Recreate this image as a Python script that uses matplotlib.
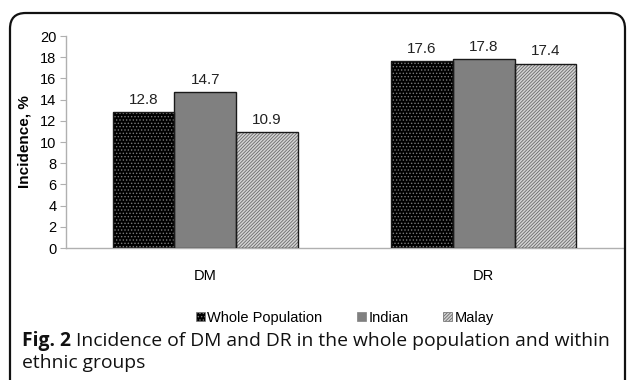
import matplotlib
matplotlib.use("Agg")
import matplotlib.pyplot as plt
import numpy as np
from matplotlib.patches import FancyBboxPatch

plt.rcParams['font.family'] = ['Liberation Sans', 'DejaVu Sans']
plt.rcParams['hatch.linewidth'] = 0.6

categories = ['DM', 'DR']
groups = ['Whole Population', 'Indian', 'Malay']
whole_pop = [12.8, 17.6]
indian = [14.7, 17.8]
malay = [10.9, 17.4]
yticks = list(range(0, 21, 2))
caption_bold = 'Fig. 2'
caption_rest = ' Incidence of DM and DR in the whole population and within'
caption_line2 = 'ethnic groups'

# face colour, hatch, hatch colour
styles = [('#000000', '.....', '#7a7a7a'),
          ('#808080', '', '#808080'),
          ('#d4d4d4', '//////////', '#6a6a6a')]

fig = plt.figure(figsize=(6.27, 3.80), dpi=100)
ax = fig.add_axes([66 / 627, 132 / 380, 557 / 627, 212 / 380])

x = np.arange(len(categories))
w = 0.222
series = [whole_pop, indian, malay]
handles = []
for i, (vals, (fc, hatch, hc)) in enumerate(zip(series, styles)):
    pos = x + (i - 1) * w
    ax.bar(pos, vals, w, color=fc, hatch=hatch, edgecolor=hc, linewidth=0, zorder=2)
    ax.bar(pos, vals, w, fill=False, edgecolor='#1a1a1a', linewidth=1.0, zorder=3)
    for p, v in zip(pos, vals):
        ax.text(p, v + 0.5, f'{v:.1f}', ha='center', va='bottom', fontsize=11, color='#222222')
    h = ax.bar([0], [0], color=fc, hatch=hatch, edgecolor=hc, linewidth=0.5)
    handles.append(h)

ax.set_xlim(-0.5, 1.5)
ax.set_ylim(0, 20)
ax.set_yticks(yticks)
ax.set_xticks(x)
ax.set_xticklabels(categories, fontsize=10.5)
ax.tick_params(axis='x', length=0, pad=15)
ax.tick_params(axis='y', labelsize=10.5, length=4, color='#b0b0b0', pad=3)
for s in ['top', 'right']:
    ax.spines[s].set_visible(False)
for s in ['left', 'bottom']:
    ax.spines[s].set_color('#b0b0b0')
    ax.spines[s].set_linewidth(1.0)
ax.set_ylabel('Incidence, %', fontsize=11, fontweight='bold')
ax.yaxis.set_label_coords(-34 / 557, 0.5)

fig.legend(handles, groups, loc='center', bbox_to_anchor=(345 / 627, 1 - 318 / 380),
           ncol=3, frameon=False, fontsize=10.5, handlelength=0.6, handleheight=0.6,
           handletextpad=0.15, columnspacing=2.4, borderpad=0)

# caption
cap_font = ['Open Sans', 'DejaVu Sans']
t1 = fig.text(22 / 627, 1 - 341 / 380, caption_bold, fontsize=13.9, fontweight='bold',
              family=cap_font, va='center', color='#111111')
fig.canvas.draw()
ax.annotate(caption_rest, xy=(1, 0.5), xycoords=t1, va='center', ha='left',
            fontsize=13.9, family=cap_font, color='#111111', annotation_clip=False)
fig.text(22 / 627, 1 - 363 / 380, caption_line2, fontsize=13.9,
         family=cap_font, va='center', color='#111111')

# rounded frame
frame = FancyBboxPatch((10 / 627, -0.2), 615 / 627, 1.2 - 13 / 380,
                       boxstyle='round,pad=0,rounding_size=0.025',
                       transform=fig.transFigure, fill=False, edgecolor='#111111',
                       linewidth=1.6, clip_on=False, mutation_aspect=627 / 380)
fig.patches.append(frame)

fig.savefig('out.png', dpi=100)
